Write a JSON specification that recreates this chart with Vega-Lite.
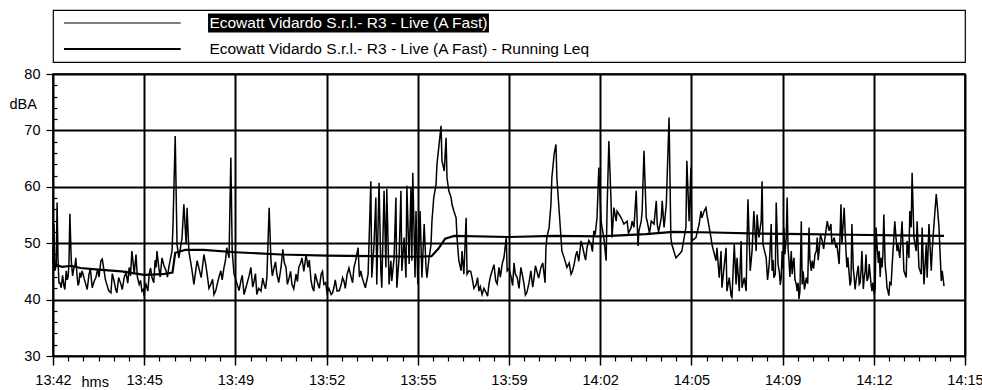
{
  "$schema": "https://vega.github.io/schema/vega-lite/v6.json",
  "autosize": {"type": "pad"},
  "padding": {"left": 8, "top": 9, "right": 10, "bottom": 2},
  "background": "white",
  "bounds": "flush",
  "spacing": 12,
  "config": {
    "font": "Liberation Sans",
    "axis": {"labelFont": "Liberation Sans", "titleFont": "Liberation Sans", "labelColor": "black", "titleColor": "black", "tickColor": "black", "domain": false, "labelFontSize": 14.5, "titleFontSize": 14.5, "titleFontWeight": "normal"},
    "view": {"stroke": "black"}
  },
  "datasets": {
    "series": [
      {"series": "Ecowatt Vidardo S.r.l.- R3 - Live (A Fast)"},
      {"series": "Ecowatt Vidardo S.r.l.- R3 - Live (A Fast) - Running Leq"}
    ],
    "live": [
      {"t":0,"db":46.3},{"t":2,"db":53.4},{"t":4,"db":45.1},{"t":7,"db":46.0},{"t":9,"db":57.2},{"t":11,"db":47.0},{"t":15,"db":43.0},{"t":18,"db":42.1},{"t":24,"db":42.4},{"t":29,"db":45.1},{"t":33,"db":44.0},{"t":37,"db":55.2},{"t":40,"db":47.0},{"t":46,"db":45.7},{"t":50,"db":47.4},{"t":53,"db":44.0},{"t":57,"db":43.0},{"t":61,"db":43.9},{"t":64,"db":45.1},{"t":72,"db":42.7},{"t":79,"db":44.5},{"t":86,"db":42.1},{"t":94,"db":43.9},{"t":105,"db":46.9},{"t":112,"db":45.1},{"t":118,"db":42.7},{"t":127,"db":41.2},{"t":134,"db":43.3},{"t":140,"db":41.2},{"t":149,"db":42.7},{"t":156,"db":43.9},{"t":167,"db":45.7},{"t":173,"db":48.6},{"t":178,"db":44.5},{"t":182,"db":48.0},{"t":189,"db":42.7},{"t":195,"db":41.5},{"t":200,"db":40.6},{"t":204,"db":42.7},{"t":211,"db":44.5},{"t":217,"db":43.9},{"t":226,"db":45.7},{"t":228,"db":48.6},{"t":232,"db":45.7},{"t":239,"db":47.4},{"t":248,"db":45.1},{"t":254,"db":45.7},{"t":261,"db":48.6},{"t":263,"db":52.8},{"t":268,"db":69.0},{"t":272,"db":49.8},{"t":276,"db":47.4},{"t":283,"db":51.0},{"t":287,"db":56.9},{"t":292,"db":49.8},{"t":294,"db":56.3},{"t":298,"db":48.6},{"t":305,"db":45.1},{"t":309,"db":42.7},{"t":316,"db":46.9},{"t":325,"db":43.9},{"t":331,"db":48.0},
      {"t":338,"db":44.5},{"t":346,"db":42.7},{"t":353,"db":40.9},{"t":360,"db":42.7},{"t":368,"db":45.1},{"t":375,"db":45.7},{"t":381,"db":49.2},{"t":386,"db":47.4},{"t":390,"db":65.2},{"t":393,"db":48.6},{"t":397,"db":44.5},{"t":404,"db":42.7},{"t":412,"db":43.3},{"t":419,"db":40.9},{"t":425,"db":42.7},{"t":434,"db":45.7},{"t":441,"db":43.3},{"t":447,"db":40.9},{"t":456,"db":41.5},{"t":463,"db":42.7},{"t":469,"db":43.9},{"t":474,"db":56.3},{"t":478,"db":46.9},{"t":485,"db":45.7},{"t":491,"db":44.5},{"t":500,"db":45.7},{"t":504,"db":48.9},{"t":511,"db":45.7},{"t":518,"db":43.9},{"t":524,"db":42.7},{"t":533,"db":44.5},{"t":539,"db":45.7},{"t":546,"db":47.4},{"t":555,"db":48.0},{"t":559,"db":45.7},{"t":566,"db":43.3},{"t":572,"db":41.5},{"t":579,"db":43.3},{"t":588,"db":44.5},{"t":594,"db":42.7},{"t":601,"db":41.2},{"t":610,"db":40.9},{"t":616,"db":42.1},{"t":623,"db":41.5},{"t":632,"db":42.7},{"t":638,"db":43.3},{"t":645,"db":44.5},{"t":654,"db":43.9},{"t":660,"db":45.7},{"t":669,"db":49.2},{"t":675,"db":45.1},
      {"t":678,"db":43.9},{"t":685,"db":42.1},{"t":691,"db":44.5},{"t":697,"db":61.0},{"t":699,"db":43.9},{"t":704,"db":49.8},{"t":708,"db":58.1},{"t":710,"db":42.7},{"t":715,"db":60.7},{"t":719,"db":45.1},{"t":721,"db":42.1},{"t":726,"db":59.3},{"t":730,"db":45.7},{"t":732,"db":59.6},{"t":737,"db":42.7},{"t":741,"db":46.9},{"t":743,"db":43.3},{"t":748,"db":47.4},{"t":752,"db":58.1},{"t":754,"db":42.1},{"t":759,"db":47.4},{"t":763,"db":59.3},{"t":765,"db":45.1},{"t":770,"db":51.0},{"t":774,"db":43.9},{"t":776,"db":60.2},{"t":781,"db":46.3},{"t":785,"db":59.9},{"t":787,"db":46.9},{"t":789,"db":62.5},{"t":794,"db":43.9},{"t":796,"db":55.7},{"t":800,"db":42.7},{"t":805,"db":55.7},{"t":809,"db":43.9},{"t":814,"db":53.4},{"t":818,"db":45.7},{"t":820,"db":43.9},{"t":824,"db":46.9},{"t":829,"db":49.8},{"t":831,"db":53.9},{"t":835,"db":58.1},{"t":840,"db":60.4},{"t":842,"db":64.0},{"t":846,"db":67.0},{"t":851,"db":70.8},{"t":853,"db":64.6},{"t":858,"db":62.8},{"t":862,"db":68.7},{"t":864,"db":61.6},{"t":868,"db":59.3},{"t":873,"db":58.1},{"t":875,"db":56.9},{"t":879,"db":55.7},{"t":884,"db":54.5},{"t":886,"db":51.0},{"t":890,"db":46.9},{"t":895,"db":45.1},{"t":897,"db":48.6},{"t":901,"db":44.5},{"t":906,"db":54.5},{"t":908,"db":44.5},{"t":912,"db":45.1},{"t":919,"db":43.9},{"t":928,"db":42.7},{"t":934,"db":41.5},{"t":941,"db":40.9},{"t":950,"db":41.2},{"t":956,"db":42.7},{"t":963,"db":45.1},{"t":971,"db":43.3},{"t":978,"db":45.7},{"t":985,"db":46.3},{"t":994,"db":51.0},{"t":996,"db":45.1},{"t":1005,"db":43.9},{"t":1011,"db":46.5},
      {"t":1018,"db":43.9},{"t":1026,"db":45.7},{"t":1033,"db":42.7},{"t":1039,"db":41.2},{"t":1048,"db":45.1},{"t":1055,"db":43.9},{"t":1061,"db":45.1},{"t":1070,"db":45.7},{"t":1077,"db":44.5},{"t":1081,"db":49.2},{"t":1083,"db":51.0},{"t":1088,"db":52.8},{"t":1092,"db":56.9},{"t":1094,"db":61.6},{"t":1099,"db":65.8},{"t":1103,"db":67.5},{"t":1105,"db":61.6},{"t":1110,"db":55.7},{"t":1114,"db":51.0},{"t":1116,"db":48.6},{"t":1121,"db":47.4},{"t":1127,"db":45.7},{"t":1136,"db":44.5},{"t":1143,"db":46.3},{"t":1149,"db":48.6},{"t":1158,"db":50.4},{"t":1165,"db":48.0},{"t":1171,"db":49.2},{"t":1180,"db":49.8},{"t":1186,"db":52.2},{"t":1193,"db":54.5},{"t":1197,"db":63.4},{"t":1202,"db":53.9},{"t":1204,"db":52.8},{"t":1208,"db":51.0},{"t":1213,"db":46.9},{"t":1215,"db":55.7},{"t":1219,"db":68.1},{"t":1224,"db":56.9},{"t":1226,"db":51.0},{"t":1230,"db":56.3},{"t":1235,"db":53.9},{"t":1237,"db":55.7},{"t":1246,"db":54.5},{"t":1252,"db":53.4},{"t":1259,"db":53.9},{"t":1262,"db":51.8},{"t":1268,"db":52.8},{"t":1270,"db":53.9},{"t":1274,"db":52.8},{"t":1279,"db":59.3},{"t":1281,"db":53.9},{"t":1283,"db":49.5},{"t":1285,"db":52.2},{"t":1290,"db":53.9},{"t":1292,"db":55.7},{"t":1296,"db":66.4},{"t":1301,"db":54.5},{"t":1303,"db":53.9},{"t":1308,"db":51.8},{"t":1312,"db":53.9},{"t":1318,"db":53.4},{"t":1323,"db":57.5},{"t":1325,"db":53.4},{"t":1328,"db":52.0},{"t":1334,"db":54.5},{"t":1336,"db":57.5},{"t":1340,"db":52.8},{"t":1345,"db":56.9},{"t":1347,"db":62.2},{"t":1351,"db":72.3},
      {"t":1355,"db":51.0},{"t":1357,"db":49.8},{"t":1366,"db":47.4},{"t":1373,"db":48.0},{"t":1379,"db":48.6},{"t":1388,"db":52.8},{"t":1390,"db":64.6},{"t":1395,"db":53.9},{"t":1399,"db":63.4},{"t":1401,"db":50.4},{"t":1410,"db":51.0},{"t":1417,"db":53.4},{"t":1421,"db":55.7},{"t":1423,"db":54.5},{"t":1428,"db":55.7},{"t":1432,"db":56.3},{"t":1434,"db":55.1},{"t":1439,"db":52.8},{"t":1443,"db":51.0},{"t":1445,"db":49.8},{"t":1454,"db":46.9},{"t":1456,"db":49.2},{"t":1461,"db":43.9},{"t":1465,"db":48.6},{"t":1467,"db":42.1},{"t":1476,"db":49.2},{"t":1478,"db":41.5},{"t":1483,"db":43.9},{"t":1487,"db":40.7},{"t":1489,"db":40.4},{"t":1494,"db":49.8},{"t":1498,"db":42.7},{"t":1500,"db":47.4},{"t":1505,"db":41.5},{"t":1509,"db":50.4},{"t":1511,"db":42.1},{"t":1516,"db":43.9},{"t":1520,"db":41.5},{"t":1522,"db":49.8},{"t":1524,"db":57.8},{"t":1529,"db":45.1},{"t":1533,"db":48.6},{"t":1537,"db":55.7},{"t":1542,"db":48.6},{"t":1544,"db":55.1},{"t":1548,"db":51.0},{"t":1553,"db":53.9},{"t":1555,"db":61.0},{"t":1557,"db":49.8},{"t":1564,"db":47.4},{"t":1570,"db":45.7},{"t":1575,"db":53.4},{"t":1577,"db":45.1},{"t":1581,"db":43.9},{"t":1586,"db":57.2},{"t":1590,"db":46.3},{"t":1597,"db":43.9},{"t":1599,"db":48.6},{"t":1603,"db":52.8},{"t":1608,"db":51.0},{"t":1610,"db":58.1},{"t":1614,"db":46.9},{"t":1619,"db":48.6},{"t":1621,"db":44.5},{"t":1625,"db":47.4},{"t":1630,"db":42.7},{"t":1632,"db":41.5},{"t":1636,"db":40.1},{"t":1641,"db":53.9},{"t":1643,"db":42.7},{"t":1652,"db":43.9},{"t":1658,"db":52.8},{"t":1663,"db":45.1},{"t":1665,"db":46.9},{"t":1674,"db":48.6},{"t":1676,"db":51.0},{"t":1680,"db":48.6},{"t":1687,"db":50.4},{"t":1693,"db":51.0},
      {"t":1698,"db":53.9},{"t":1702,"db":52.2},{"t":1706,"db":53.4},{"t":1708,"db":49.8},{"t":1713,"db":51.0},{"t":1717,"db":49.2},{"t":1719,"db":49.8},{"t":1724,"db":46.3},{"t":1728,"db":56.9},{"t":1730,"db":49.8},{"t":1735,"db":56.3},{"t":1739,"db":48.6},{"t":1741,"db":45.7},{"t":1746,"db":44.5},{"t":1750,"db":43.3},{"t":1752,"db":53.4},{"t":1757,"db":43.9},{"t":1761,"db":43.3},{"t":1763,"db":44.5},{"t":1768,"db":42.7},{"t":1772,"db":45.1},{"t":1774,"db":48.6},{"t":1779,"db":43.9},{"t":1783,"db":48.0},{"t":1785,"db":43.3},{"t":1790,"db":46.3},{"t":1794,"db":42.7},{"t":1796,"db":41.5},{"t":1801,"db":40.9},{"t":1805,"db":52.8},{"t":1807,"db":49.8},{"t":1812,"db":48.6},{"t":1816,"db":47.4},{"t":1818,"db":45.7},{"t":1822,"db":55.1},{"t":1827,"db":44.5},{"t":1829,"db":42.1},{"t":1833,"db":40.7},{"t":1838,"db":42.7},{"t":1840,"db":45.7},{"t":1844,"db":51.0},{"t":1846,"db":53.9},{"t":1851,"db":48.6},{"t":1853,"db":49.8},{"t":1857,"db":47.4},{"t":1862,"db":53.9},{"t":1866,"db":45.1},{"t":1871,"db":43.9},{"t":1873,"db":50.4},{"t":1877,"db":47.4},{"t":1879,"db":55.7},{"t":1882,"db":52.8},{"t":1884,"db":62.5},{"t":1888,"db":51.0},{"t":1893,"db":48.6},{"t":1895,"db":53.9},{"t":1899,"db":45.7},{"t":1904,"db":44.5},{"t":1906,"db":52.8},{"t":1910,"db":42.7},{"t":1915,"db":49.8},{"t":1917,"db":43.9},{"t":1921,"db":53.4},{"t":1926,"db":45.1},{"t":1928,"db":48.6},{"t":1932,"db":53.4},{"t":1937,"db":58.7},{"t":1939,"db":56.9},{"t":1943,"db":52.8},{"t":1948,"db":43.3},{"t":1950,"db":45.1},{"t":1954,"db":42.4},
      {"t":13,"db":43.0},{"t":21,"db":44.3},{"t":26,"db":41.8},{"t":31,"db":43.5},{"t":35,"db":46.2},{"t":43,"db":44.2},{"t":48,"db":46.0},{"t":55,"db":42.5},{"t":59,"db":44.8},{"t":68,"db":43.8},{"t":75,"db":41.8},{"t":82,"db":45.5},{"t":90,"db":43.2},{"t":98,"db":45.4},{"t":101,"db":44.0},{"t":108,"db":47.2},{"t":115,"db":43.5},{"t":122,"db":41.6},{"t":130,"db":44.6},{"t":137,"db":42.0},{"t":144,"db":43.9},{"t":152,"db":41.8},{"t":160,"db":44.8},{"t":164,"db":42.9},{"t":170,"db":44.2},{"t":176,"db":46.3},{"t":185,"db":44.0},{"t":192,"db":43.4},{"t":198,"db":41.8},{"t":202,"db":42.2},{"t":208,"db":41.5},{"t":214,"db":45.6},{"t":221,"db":43.0},{"t":224,"db":47.0},{"t":235,"db":44.0},{"t":243,"db":46.1},{"t":251,"db":44.0},{"t":257,"db":47.0},
      {"t":335,"db":46.2},{"t":342,"db":42.0},{"t":350,"db":43.6},{"t":357,"db":41.6},{"t":364,"db":44.0},{"t":371,"db":43.5},{"t":378,"db":46.8},{"t":400,"db":43.8},{"t":408,"db":41.6},{"t":415,"db":44.3},{"t":422,"db":41.8},{"t":430,"db":44.2},{"t":438,"db":42.2},{"t":444,"db":44.6},{"t":451,"db":42.0},{"t":460,"db":43.8},{"t":466,"db":41.9},{"t":481,"db":44.2},{"t":488,"db":46.7},{"t":495,"db":43.0},{"t":507,"db":46.6},{"t":514,"db":42.7},{"t":521,"db":45.0},{"t":528,"db":41.9},{"t":536,"db":43.2},{"t":543,"db":46.5},{"t":550,"db":45.0},{"t":562,"db":47.0},{"t":569,"db":42.1},{"t":575,"db":44.6},{"t":584,"db":42.0},{"t":591,"db":45.0},{"t":598,"db":43.0},{"t":605,"db":42.0},{"t":613,"db":41.2},{"t":619,"db":43.5},{"t":628,"db":41.6},{"t":635,"db":43.9},{"t":641,"db":42.0},{"t":649,"db":45.6},{"t":657,"db":43.0},{"t":664,"db":47.0},{"t":672,"db":44.0},
      {"t":916,"db":45.0},{"t":923,"db":42.0},{"t":931,"db":43.9},{"t":937,"db":42.3},{"t":945,"db":42.0},{"t":953,"db":40.6},{"t":959,"db":44.0},{"t":967,"db":46.2},{"t":974,"db":42.8},{"t":981,"db":44.0},{"t":989,"db":47.5},{"t":1000,"db":45.5},{"t":1008,"db":42.5},{"t":1014,"db":44.5},{"t":1022,"db":42.0},{"t":1029,"db":44.5},{"t":1036,"db":40.8},{"t":1044,"db":43.0},{"t":1052,"db":42.2},{"t":1058,"db":46.0},{"t":1065,"db":43.8},{"t":1074,"db":46.5},{"t":1079,"db":43.0},
      {"t":1132,"db":46.5},{"t":1139,"db":45.0},{"t":1146,"db":47.7},{"t":1153,"db":46.8},{"t":1161,"db":49.5},{"t":1168,"db":47.0},{"t":1175,"db":50.5},{"t":1183,"db":48.5},{"t":1189,"db":51.5},
      {"t":1567,"db":43.5},{"t":1572,"db":48.0},{"t":1579,"db":47.0},{"t":1584,"db":44.5},{"t":1593,"db":44.8},{"t":1595,"db":42.6},{"t":1601,"db":45.5},{"t":1605,"db":48.0},{"t":1612,"db":49.0},{"t":1616,"db":44.0},{"t":1623,"db":46.5},{"t":1627,"db":43.6},{"t":1634,"db":43.0},{"t":1638,"db":41.5},{"t":1645,"db":45.0},{"t":1648,"db":41.8},{"t":1655,"db":42.8},{"t":1660,"db":47.0},{"t":1668,"db":45.5},{"t":1671,"db":48.0},{"t":1678,"db":47.0},{"t":1683,"db":51.5},{"t":1690,"db":49.0},
      {"t":1743,"db":47.5},{"t":1748,"db":42.5},{"t":1755,"db":45.5},{"t":1759,"db":41.8},{"t":1766,"db":46.0},{"t":1770,"db":43.0},{"t":1777,"db":41.9},{"t":1781,"db":45.0},{"t":1788,"db":44.0},{"t":1792,"db":44.5},{"t":1798,"db":43.0},{"t":1803,"db":42.0},{"t":1810,"db":46.5},{"t":1814,"db":44.0},{"t":1820,"db":48.0},{"t":1825,"db":46.0},{"t":1831,"db":41.5},{"t":1835,"db":43.0}
    ],
    "leq": [
      {"t":0,"db":46.3},{"t":20,"db":45.8},{"t":40,"db":46.0},{"t":60,"db":45.6},{"t":100,"db":45.3},{"t":150,"db":45.0},{"t":200,"db":44.4},{"t":240,"db":44.5},{"t":262,"db":44.8},{"t":268,"db":48.3},{"t":290,"db":48.8},{"t":330,"db":48.8},{"t":400,"db":48.4},{"t":500,"db":48.0},{"t":600,"db":47.8},{"t":700,"db":47.7},{"t":800,"db":47.6},{"t":830,"db":47.7},{"t":845,"db":49.0},{"t":860,"db":50.8},{"t":880,"db":51.3},{"t":1000,"db":51.1},{"t":1100,"db":51.3},{"t":1200,"db":51.2},{"t":1300,"db":51.6},{"t":1360,"db":52.0},{"t":1450,"db":51.9},{"t":1550,"db":51.7},{"t":1650,"db":51.6},{"t":1750,"db":51.5},{"t":1850,"db":51.4},{"t":1954,"db":51.3}
    ]
  },
  "vconcat": [
    {
      "width": 912,
      "height": 52,
      "view": {"stroke": "black", "strokeWidth": 1.2},
      "data": {"name": "series"},
      "layer": [
        {
          "transform": [{"filter": {"field": "series", "equal": "Ecowatt Vidardo S.r.l.- R3 - Live (A Fast)"}}],
          "mark": {"type": "bar", "color": "black", "height": {"band": 0.74}},
          "encoding": {
            "x": {"datum": 0.170, "type": "quantitative", "scale": {"domain": [0, 1], "nice": false, "zero": false}, "axis": null},
            "x2": {"datum": 0.478},
            "y": {"field": "series", "type": "nominal", "scale": {"domain": ["Ecowatt Vidardo S.r.l.- R3 - Live (A Fast)", "Ecowatt Vidardo S.r.l.- R3 - Live (A Fast) - Running Leq"], "paddingInner": 0, "paddingOuter": 0}, "axis": null}
          }
        },
        {
          "mark": {"type": "rule", "color": "black"},
          "encoding": {
            "x": {"datum": 0.012, "type": "quantitative"},
            "x2": {"datum": 0.140},
            "y": {"field": "series", "type": "nominal"},
            "strokeWidth": {"field": "series", "type": "ordinal", "scale": {"domain": ["Ecowatt Vidardo S.r.l.- R3 - Live (A Fast)", "Ecowatt Vidardo S.r.l.- R3 - Live (A Fast) - Running Leq"], "range": [1.2, 2.2]}, "legend": null}
          }
        },
        {
          "mark": {"type": "text", "align": "left", "baseline": "middle", "fontSize": 15.5, "font": "Liberation Sans"},
          "encoding": {
            "x": {"datum": 0.1715, "type": "quantitative"},
            "y": {"field": "series", "type": "nominal"},
            "text": {"field": "series"},
            "color": {"field": "series", "type": "nominal", "scale": {"domain": ["Ecowatt Vidardo S.r.l.- R3 - Live (A Fast)", "Ecowatt Vidardo S.r.l.- R3 - Live (A Fast) - Running Leq"], "range": ["white", "black"]}, "legend": null}
          }
        }
      ]
    },
    {
      "width": 912,
      "height": 282,
      "view": {"stroke": "black", "strokeWidth": 1.6},
      "layer": [
        {
          "data": {"name": "live"},
          "mark": {"type": "line", "color": "black", "strokeWidth": 1.5},
          "encoding": {
            "x": {"field": "t", "type": "quantitative", "scale": {"domain": [0, 2000], "nice": false, "zero": false},
              "axis": {"orient": "bottom", "values": [0, 200, 400, 600, 800, 1000, 1200, 1400, 1600, 1800, 2000],
                "labelExpr": "format(floor((822 + round(datum.value / 60)) / 60), 'd') + ':' + format((822 + round(datum.value / 60)) % 60, '02d')",
                "grid": true, "gridColor": "black", "gridWidth": 2, "gridOpacity": 1, "tickSize": 9, "tickWidth": 1.5, "labelPadding": 8, "labelFlush": false, "labelOverlap": false,
                "title": "hms", "titleX": 28, "titleY": 30, "titleAlign": "left", "titleBaseline": "alphabetic", "titleAnchor": null}},
            "y": {"field": "db", "type": "quantitative", "scale": {"domain": [30, 80], "nice": false, "zero": false},
              "axis": {"orient": "left", "values": [30, 40, 50, 60, 70, 80], "grid": true, "gridColor": "black", "gridWidth": 2, "gridOpacity": 1, "tickSize": 7, "tickWidth": 1.2, "labelPadding": 6,
                "title": "dBA", "titleAngle": 0, "titleX": -44, "titleY": 30, "titleAlign": "left", "titleBaseline": "middle", "titleAnchor": null}}
          }
        },
        {
          "data": {"name": "leq"},
          "mark": {"type": "line", "color": "black", "strokeWidth": 2.2},
          "encoding": {
            "x": {"field": "t", "type": "quantitative",
              "axis": {"orient": "bottom", "values": [33.3, 66.7, 100, 133.3, 166.7, 233.3, 266.7, 300, 333.3, 366.7, 433.3, 466.7, 500, 533.3, 566.7, 633.3, 666.7, 700, 733.3, 766.7, 833.3, 866.7, 900, 933.3, 966.7, 1033.3, 1066.7, 1100, 1133.3, 1166.7, 1233.3, 1266.7, 1300, 1333.3, 1366.7, 1433.3, 1466.7, 1500, 1533.3, 1566.7, 1633.3, 1666.7, 1700, 1733.3, 1766.7, 1833.3, 1866.7, 1900, 1933.3, 1966.7],
                "labels": false, "grid": false, "tickSize": 5, "tickWidth": 1.2, "title": null}},
            "y": {"field": "db", "type": "quantitative",
              "axis": {"orient": "left", "values": [32, 34, 36, 38, 42, 44, 46, 48, 52, 54, 56, 58, 62, 64, 66, 68, 72, 74, 76, 78],
                "labels": false, "grid": false, "tickSize": -4, "tickWidth": 1.2, "title": null}}
          }
        }
      ],
      "resolve": {"axis": {"x": "independent", "y": "independent"}}
    }
  ]
}
